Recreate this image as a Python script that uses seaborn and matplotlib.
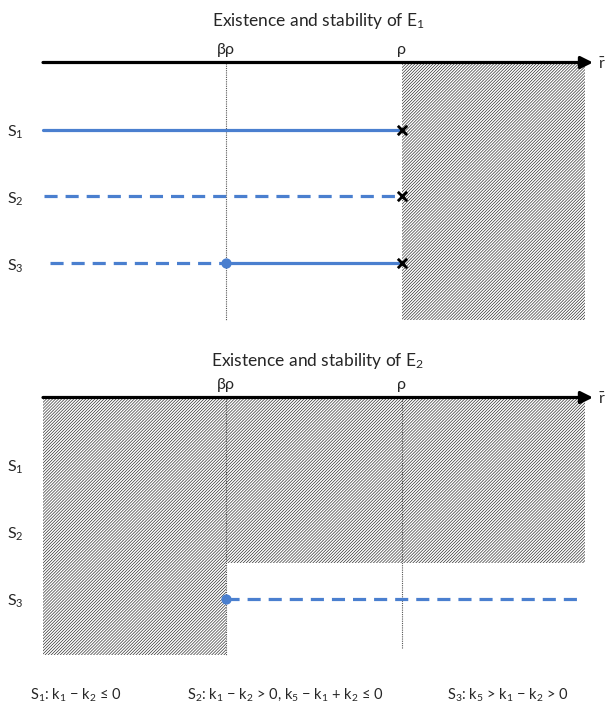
import matplotlib
matplotlib.use("Agg")
import matplotlib.pyplot as plt
import seaborn as sns
import pandas as pd

# ---------------- data ----------------
r_min = 0.0
beta_rho = 0.51
rho = 1.0
r_max = 1.51
arrow_end = 1.532

row_labels = ["S$_1$", "S$_2$", "S$_3$"]
row_pos = [1, 2, 3]

# E1 panel: equilibrium segments per scenario
e1_seg_row = [1, 2, 3, 3]
e1_seg_start = [0.0, 0.003, 0.02, 0.51]
e1_seg_end = [0.995, 0.995, 0.51, 0.995]
e1_seg_style = ["solid", "dashed", "dashed", "solid"]
e1_cross_x = [1.0, 1.0, 1.0]
e1_cross_row = [1, 2, 3]
e1_dot_x = [0.51]
e1_dot_row = [3]
e1_hatch_x0 = [1.0]
e1_hatch_x1 = [1.51]
e1_hatch_ybot = [3.84]
e1_vline_x = [0.51]
e1_vline_ybot = [3.84]

# E2 panel
e2_seg_row = [3]
e2_seg_start = [0.51]
e2_seg_end = [1.505]
e2_seg_style = ["dashed"]
e2_dot_x = [0.51]
e2_dot_row = [3]
e2_hatch_x0 = [0.0, 0.51]
e2_hatch_x1 = [0.51, 1.51]
e2_hatch_ybot = [3.84, 2.47]
e2_vline_x = [0.51, 1.0]
e2_vline_ybot = [3.84, 3.74]

tick_labels = ["βρ", "ρ"]
tick_pos = [0.51, 1.0]

titles = ["Existence and stability of E$_1$", "Existence and stability of E$_2$"]
footnotes = ["S$_1$: k$_1$ − k$_2$ ≤ 0",
             "S$_2$: k$_1$ − k$_2$ > 0, k$_5$ − k$_1$ + k$_2$ ≤ 0",
             "S$_3$: k$_5$ > k$_1$ − k$_2$ > 0"]

# ---------------- style ----------------
sns.set_theme(style="white")
plt.rcParams["font.family"] = ["Lato", "DejaVu Sans"]
plt.rcParams["mathtext.fontset"] = "custom"
plt.rcParams["mathtext.rm"] = "Lato"
plt.rcParams["mathtext.it"] = "Lato:italic"
plt.rcParams["mathtext.bf"] = "Lato:bold"
plt.rcParams["hatch.linewidth"] = 0.45

BLUE = "#4a7fcf"
HATCH = "#222222"
W, H = 606, 706
fig = plt.figure(figsize=(W / 100, H / 100), dpi=100)

unit_y = 67.0
unit_x = 359.0
x_origin_px = 43.0
ylim_top, ylim_bot = -0.15, 3.95


def make_axes(axis_px):
    top_px = axis_px + ylim_top * unit_y
    bot_px = axis_px + ylim_bot * unit_y
    ax = fig.add_axes([0, 1 - bot_px / H, 1, (bot_px - top_px) / H])
    ax.set_xlim(-x_origin_px / unit_x, (W - x_origin_px) / unit_x)
    ax.set_ylim(ylim_bot, ylim_top)
    return ax


dash = (0, (4.1, 2.5))


def draw_panel(ax, seg_row, seg_start, seg_end, seg_style, dot_x, dot_row,
               hatch_x0, hatch_x1, hatch_ybot, vline_x, vline_ybot,
               cross_x=None, cross_row=None):
    for x0, x1, yb in zip(hatch_x0, hatch_x1, hatch_ybot):
        ax.fill_between([x0, x1], 0, yb, facecolor="white", hatch="/" * 11,
                        edgecolor=HATCH, linewidth=0, zorder=1)
    for x, yb in zip(vline_x, vline_ybot):
        ax.plot([x, x], [0, yb], color="#555555", lw=0.8, ls=(0, (1, 1)), zorder=2)
    for r, x0, x1, st in zip(seg_row, seg_start, seg_end, seg_style):
        df = pd.DataFrame({"x": [x0, x1], "y": [r, r]})
        sns.lineplot(data=df, x="x", y="y", ax=ax, color=BLUE, linewidth=2.3,
                     linestyle="-" if st == "solid" else dash, zorder=3)
    if cross_x is not None:
        sns.scatterplot(x=cross_x, y=cross_row, ax=ax, marker="x", s=45,
                        color="black", linewidth=2.0, zorder=5)
    sns.scatterplot(x=dot_x, y=dot_row, ax=ax, marker="o", s=55, color=BLUE,
                    edgecolor=BLUE, linewidth=0, zorder=5)
    # axis arrow
    ax.annotate("", xy=(arrow_end, 0), xytext=(r_min, 0),
                arrowprops=dict(arrowstyle="-|>,head_length=0.6,head_width=0.3",
                                lw=2.3, color="black", shrinkA=0, shrinkB=0),
                zorder=6)
    ax.text(1.556, 0.03, r"$\bar{\mathrm{r}}$", ha="center", va="center", fontsize=11.5)
    for lab, xp in zip(tick_labels, tick_pos):
        ax.text(xp, -0.19, lab, ha="center", va="center", fontsize=11.5)
    for lab, yp in zip(row_labels, row_pos):
        ax.text(-0.078, yp + 0.04, lab, ha="center", va="center", fontsize=11.5)
    ax.set_xlabel("")
    ax.set_ylabel("")
    ax.axis("off")


ax1 = make_axes(62.5)
draw_panel(ax1, e1_seg_row, e1_seg_start, e1_seg_end, e1_seg_style, e1_dot_x, e1_dot_row,
           e1_hatch_x0, e1_hatch_x1, e1_hatch_ybot, e1_vline_x, e1_vline_ybot,
           e1_cross_x, e1_cross_row)
ax2 = make_axes(397.5)
draw_panel(ax2, e2_seg_row, e2_seg_start, e2_seg_end, e2_seg_style, e2_dot_x, e2_dot_row,
           e2_hatch_x0, e2_hatch_x1, e2_hatch_ybot, e2_vline_x, e2_vline_ybot)

fig.text(318 / W, 1 - 21 / H, titles[0], ha="center", va="center", fontsize=12.5)
fig.text(318 / W, 1 - 361 / H, titles[1], ha="center", va="center", fontsize=12.5)

foot_x = [30, 187, 447]
for t, xp in zip(footnotes, foot_x):
    fig.text(xp / W, 1 - 695 / H, t, ha="left", va="center", fontsize=10.5)

fig.savefig("out.png", dpi=100)
